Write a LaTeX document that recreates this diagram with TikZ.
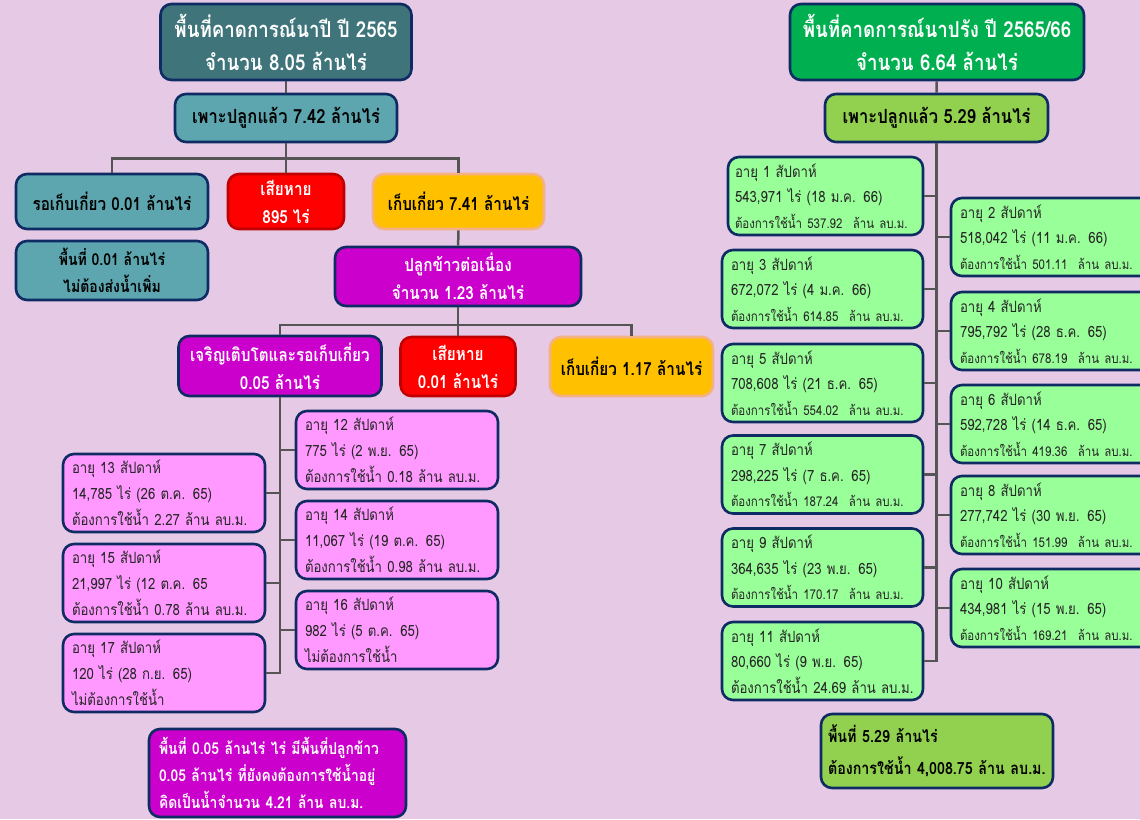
\documentclass[tikz,border=0pt]{standalone}
\usepackage{fontspec}
\setmainfont[Script=Thai, FakeStretch=0.85]{Loma}
\usepackage{tikz}
\usetikzlibrary{positioning}
\definecolor{lilac}{HTML}{E5C9E5}
\definecolor{navy}{HTML}{0F2B63}
\definecolor{wiregray}{HTML}{555555}
\definecolor{tealdark}{HTML}{3E747A}
\definecolor{tealmid}{HTML}{5DA6AF}
\definecolor{dmgred}{HTML}{FF0000}
\definecolor{dmgedge}{HTML}{C00000}
\definecolor{gold}{HTML}{FFC000}
\definecolor{goldedge}{HTML}{F4B183}
\definecolor{plum}{HTML}{CC00CC}
\definecolor{pinkbox}{HTML}{FF99FF}
\definecolor{greendark}{HTML}{00B050}
\definecolor{greenmid}{HTML}{92D050}
\definecolor{greenlight}{HTML}{99FF99}
\newcommand{\smallline}[1]{{\fontsize{13.5}{25.5}\selectfont #1}}
\tikzset{
  box/.style={draw=navy, line width=2.6pt, rounded corners=11pt, align=center, inner sep=0pt},
  head/.style={box, text=white, font=\fontsize{22}{33}\selectfont\bfseries},
  sub/.style={box, font=\fontsize{19.5}{28}\selectfont\bfseries},
  leaf/.style={box, font=\fontsize{18}{28}\selectfont\bfseries},
  note/.style={box, font=\fontsize{16.5}{27}\selectfont\bfseries},
  dmg/.style={fill=dmgred, draw=dmgedge, text=white},
  harv/.style={fill=gold, draw=goldedge},
  agebox/.style={box, align=left, inner xsep=9pt, minimum height=78pt, text width=#1,
    text=black!85, font=\fontsize{15.5}{26}\selectfont},
  agebox/.default=184pt,
  pinkage/.style={agebox, fill=pinkbox},
  greenage/.style={agebox=#1, fill=greenlight, font=\fontsize{15.5}{25.5}\selectfont},
  greenage/.default=183pt,
  sumbox/.style={box, align=left, inner xsep=10pt, font=\fontsize{16.3}{27}\selectfont\bfseries},
  wire/.style={draw=wiregray, line width=2.5pt}
}
\begin{document}
\begin{tikzpicture}[x=1pt, y=-1pt]
\useasboundingbox (0,0) rectangle (1140,819);
\fill[lilac] (0,0) rectangle (1140,819);
\node[head, fill=tealdark, minimum width=251pt, minimum height=76pt] (ltitle) at (286,42) {พื้นที่คาดการณ์นาปี ปี 2565\\จำนวน 8.05 ล้านไร่};
\node[sub, fill=tealmid, minimum width=222pt, minimum height=48pt] (lsown) at (286,118) {เพาะปลูกแล้ว 7.42 ล้านไร่};
\node[leaf, fill=tealmid, minimum width=192pt, minimum height=55pt] (lwait) at (112,201.5) {รอเก็บเกี่ยว 0.01 ล้านไร่};
\node[leaf, dmg, minimum width=116pt, minimum height=55pt] (ldmg) at (286,201.5) {เสียหาย\\895 ไร่};
\node[leaf, harv, minimum width=171pt, minimum height=55pt] (lharv) at (458.5,201.5) {เก็บเกี่ยว 7.41 ล้านไร่};
\node[note, fill=tealmid, minimum width=192pt, minimum height=59pt] (lnowater) at (112,270.5) {พื้นที่ 0.01 ล้านไร่\\ไม่ต้องส่งน้ำเพิ่ม};
\node[leaf, fill=plum, text=white, minimum width=246pt, minimum height=59pt] (lcont) at (458,276.5) {ปลูกข้าวต่อเนื่อง\\จำนวน 1.23 ล้านไร่};
\node[leaf, fill=plum, text=white, minimum width=203pt, minimum height=60pt] (lgrow) at (280,366) {เจริญเติบโตและรอเก็บเกี่ยว\\0.05 ล้านไร่};
\node[leaf, dmg, minimum width=115pt, minimum height=59pt] (ldmg2) at (458,366.5) {เสียหาย\\0.01 ล้านไร่};
\node[leaf, harv, minimum width=163pt, minimum height=59pt] (lharv2) at (631.5,366.5) {เก็บเกี่ยว 1.17 ล้านไร่};
\node[pinkage] (p12) at (397,450) {อายุ 12 สัปดาห์\\775 ไร่ (2 พ.ย. 65)\\ต้องการใช้น้ำ 0.18 ล้าน ลบ.ม.};
\node[pinkage] (p13) at (164,493) {อายุ 13 สัปดาห์\\14,785 ไร่ (26 ต.ค. 65)\\ต้องการใช้น้ำ 2.27 ล้าน ลบ.ม.};
\node[pinkage] (p14) at (397,540) {อายุ 14 สัปดาห์\\11,067 ไร่ (19 ต.ค. 65)\\ต้องการใช้น้ำ 0.98 ล้าน ลบ.ม.};
\node[pinkage] (p15) at (164,583) {อายุ 15 สัปดาห์\\21,997 ไร่ (12 ต.ค. 65\\ต้องการใช้น้ำ 0.78 ล้าน ลบ.ม.};
\node[pinkage] (p16) at (397,630) {อายุ 16 สัปดาห์\\982 ไร่ (5 ต.ค. 65)\\ไม่ต้องการใช้น้ำ};
\node[pinkage] (p17) at (164,673) {อายุ 17 สัปดาห์\\120 ไร่ (28 ก.ย. 65)\\ไม่ต้องการใช้น้ำ};
\node[sumbox, fill=plum, text=white, text width=237pt, minimum height=88pt] (lsum) at (277.5,773) {พื้นที่ 0.05 ล้านไร่ ไร่ มีพื้นที่ปลูกข้าว\\0.05 ล้านไร่ ที่ยังคงต้องการใช้น้ำอยู่\\คิดเป็นน้ำจำนวน 4.21 ล้าน ลบ.ม.};
\node[head, fill=greendark, minimum width=294pt, minimum height=76pt] (rtitle) at (937,42) {พื้นที่คาดการณ์นาปรัง ปี 2565/66\\จำนวน 6.64 ล้านไร่};
\node[sub, fill=greenmid, minimum width=223pt, minimum height=48pt] (rsown) at (936.5,118) {เพาะปลูกแล้ว 5.29 ล้านไร่};
\node[greenage=181pt, inner xsep=7pt] (a1) at (825.5,196) {อายุ 1 สัปดาห์\\543,971 ไร่ (18 ม.ค. 66)\\\smallline{ต้องการใช้น้ำ 537.92\ \ ล้าน ลบ.ม.}};
\node[greenage] (a2) at (1051.5,237) {อายุ 2 สัปดาห์\\518,042 ไร่ (11 ม.ค. 66)\\\smallline{ต้องการใช้น้ำ 501.11\ \ ล้าน ลบ.ม.}};
\node[greenage] (a3) at (822.5,289) {อายุ 3 สัปดาห์\\672,072 ไร่ (4 ม.ค. 66)\\\smallline{ต้องการใช้น้ำ 614.85\ \ ล้าน ลบ.ม.}};
\node[greenage] (a4) at (1051.5,331) {อายุ 4 สัปดาห์\\795,792 ไร่ (28 ธ.ค. 65)\\\smallline{ต้องการใช้น้ำ 678.19\ \ ล้าน ลบ.ม.}};
\node[greenage] (a5) at (822.5,383) {อายุ 5 สัปดาห์\\708,608 ไร่ (21 ธ.ค. 65)\\\smallline{ต้องการใช้น้ำ 554.02\ \ ล้าน ลบ.ม.}};
\node[greenage] (a6) at (1051.5,424) {อายุ 6 สัปดาห์\\592,728 ไร่ (14 ธ.ค. 65)\\\smallline{ต้องการใช้น้ำ 419.36\ \ ล้าน ลบ.ม.}};
\node[greenage] (a7) at (822.5,474.5) {อายุ 7 สัปดาห์\\298,225 ไร่ (7 ธ.ค. 65)\\\smallline{ต้องการใช้น้ำ 187.24\ \ ล้าน ลบ.ม.}};
\node[greenage] (a8) at (1051.5,515) {อายุ 8 สัปดาห์\\277,742 ไร่ (30 พ.ย. 65)\\\smallline{ต้องการใช้น้ำ 151.99\ \ ล้าน ลบ.ม.}};
\node[greenage] (a9) at (822.5,567.5) {อายุ 9 สัปดาห์\\364,635 ไร่ (23 พ.ย. 65)\\\smallline{ต้องการใช้น้ำ 170.17\ \ ล้าน ลบ.ม.}};
\node[greenage] (a10) at (1051.5,608) {อายุ 10 สัปดาห์\\434,981 ไร่ (15 พ.ย. 65)\\\smallline{ต้องการใช้น้ำ 169.21\ \ ล้าน ลบ.ม.}};
\node[greenage] (a11) at (822.5,661) {อายุ 11 สัปดาห์\\80,660 ไร่ (9 พ.ย. 65)\\ต้องการใช้น้ำ 24.69 ล้าน ลบ.ม.};
\node[sumbox, fill=greenmid, text width=218pt, inner xsep=7pt, minimum height=74pt, font=\fontsize{16.8}{32}\selectfont\bfseries] (rsum) at (937,751) {พื้นที่ 5.29 ล้านไร่\\ต้องการใช้น้ำ 4,008.75 ล้าน ลบ.ม.};
\draw[wire] (ltitle) -- (lsown);
\draw[wire] (lsown.south) -- ++(0,15) -| (lwait.north);
\draw[wire] (lsown.south) -- ++(0,15) -| (ldmg.north);
\draw[wire] (lsown.south) -- ++(0,15) -| (lharv.north);
\draw[wire] (lharv) -- (lcont);
\draw[wire] (lcont.south) -- ++(0,17.5) -| (lgrow.north);
\draw[wire] (lcont.south) -- ++(0,17.5) -| (ldmg2.north);
\draw[wire] (lcont.south) -- ++(0,17.5) -| (lharv2.north);
\foreach \n in {p12,p14,p16} \draw[wire] (lgrow.south) |- (\n.west);
\foreach \n in {p13,p15,p17} \draw[wire] (lgrow.south) |- (\n.east);
\draw[wire] (rtitle) -- (rsown);
\foreach \n in {a1,a3,a5,a7,a9,a11} \draw[wire] (rsown.south) |- (\n.east);
\foreach \n in {a2,a4,a6,a8,a10} \draw[wire] (rsown.south) |- (\n.west);
\end{tikzpicture}
\end{document}
